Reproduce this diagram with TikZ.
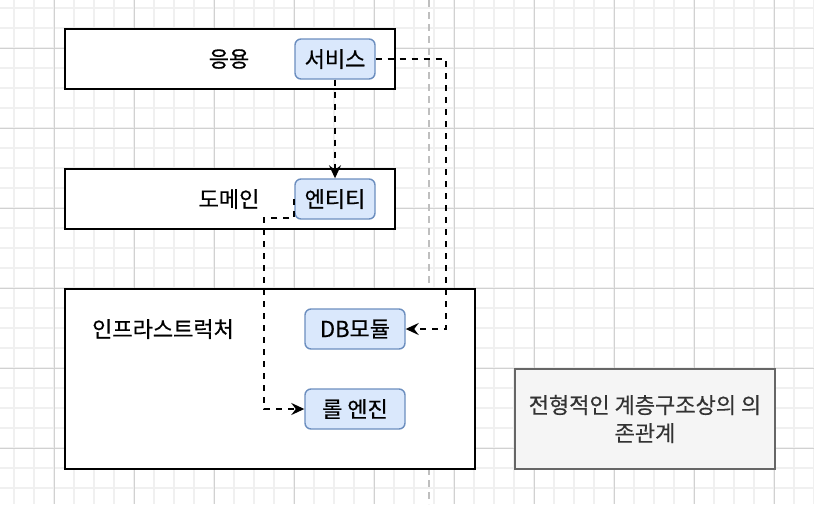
\documentclass[tikz,border=0pt]{standalone}
\usepackage{fontspec}
\setmainfont{Noto Sans CJK KR}[FakeBold=0.4]
\usepackage{tikz}
\usetikzlibrary{arrows.meta}
\usepackage{xcolor}
\definecolor{subfill}{HTML}{DAE8FC}
\definecolor{subline}{HTML}{6C8EBF}
\definecolor{notefill}{HTML}{F5F5F5}
\definecolor{noteline}{HTML}{666666}
\definecolor{notetext}{HTML}{333333}

\begin{document}
\begin{tikzpicture}[x=1pt, y=-1pt, >={Stealth[length=13pt,width=12pt,inset=4.5pt]},
every node/.style={font=\fontsize{22}{28}\selectfont},
layer/.style={draw=black, line width=2pt, fill=white, minimum width=330pt, minimum height=60pt, inner sep=0pt},
part/.style={draw=subline, line width=1.4pt, fill=subfill, rounded corners=6pt, minimum width=80pt, minimum height=40pt, inner sep=0pt},
dep/.style={->, dashed, dash pattern=on 6pt off 6pt, line width=2pt, draw=black}]
\useasboundingbox (0,0) rectangle (814,504);
% grid
\foreach \gx in {14,34,...,814} \draw[black!6, line width=1.5pt] (\gx,0) -- (\gx,504);
\foreach \gy in {8,28,...,504} \draw[black!6, line width=1.5pt] (0,\gy) -- (814,\gy);
\foreach \gx in {54,134,...,814} \draw[black!18, line width=1pt] (\gx,0) -- (\gx,504);
\foreach \gy in {48,128,...,504} \draw[black!18, line width=1pt] (0,\gy) -- (814,\gy);
\draw[black!25, line width=2pt, dash pattern=on 7pt off 5pt] (429,0) -- (429,504);
% layers
\node[layer] (app) at (230,59) {};
\node (applbl) at (229,59) {응용};
\node[part] (svc) at (335,59) {서비스};
\node[layer] (dom) at (230,199) {};
\node (domlbl) at (229,199) {도메인};
\node[part] (ent) at (335,199) {엔티티};
\node[layer, minimum width=410pt, minimum height=180pt] (infra) at (270,379) {};
\node (infralbl) at (163,329) {인프라스트럭처};
\node[part, minimum width=100pt] (db) at (355,329) {DB모듈};
\node[part, minimum width=100pt] (rule) at (355,409) {롤 엔진};
% dependencies
\draw[dep] (svc.south) -- (ent.north);
\draw[dep] (svc.east) -- ++(70,0) |- (db.east);
\draw[dep] (ent.west) -- ++(0,19) -- ++(-30,0) |- (rule.west);
\node[draw=noteline, line width=1.4pt, fill=notefill, text=notetext, minimum width=260pt, minimum height=100pt, align=center] (note) at (645,419) {전형적인 계층구조상의 의\\존관계};
\end{tikzpicture}
\end{document}
